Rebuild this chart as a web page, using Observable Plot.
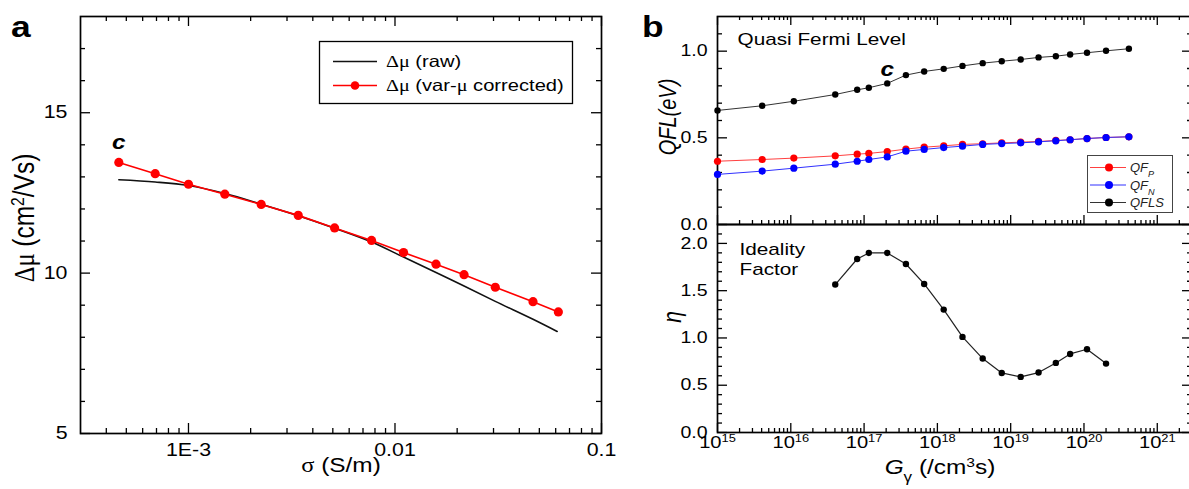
<!DOCTYPE html>
<html><head><meta charset="utf-8">
<script src="https://cdn.jsdelivr.net/npm/d3@7"></script>
<script src="https://cdn.jsdelivr.net/npm/@observablehq/plot@0.6"></script>
<style>
html,body{margin:0;padding:0;background:#fff;overflow:hidden;}
#root{position:relative;width:1189px;height:489px;overflow:hidden;}
#root svg{position:absolute;overflow:visible;}
</style></head><body><div id="root"></div>
<script>
// ---------------- Panel a data ----------------
const sigmaCorr = [4.6e-4, 6.9e-4, 1.0e-3, 1.5e-3, 2.25e-3, 3.4e-3, 5.1e-3, 7.7e-3, 0.0110, 0.0158, 0.0216, 0.0306, 0.0466, 0.0618];
const dmuCorr   = [13.45, 13.10, 12.77, 12.46, 12.14, 11.80, 11.41, 11.02, 10.64, 10.28, 9.95, 9.56, 9.11, 8.79];
const sigmaRaw  = [4.6e-4, 6.9e-4, 1.0e-3, 1.5e-3, 2.25e-3, 3.4e-3, 5.1e-3, 7.7e-3, 0.0110, 0.0158, 0.0216, 0.0306, 0.0466, 0.061];
const dmuRaw    = [12.91, 12.84, 12.73, 12.48, 12.15, 11.79, 11.40, 10.97, 10.50, 10.02, 9.60, 9.12, 8.56, 8.18];

// ---------------- Panel b data ----------------
const G    = [1.0e15, 4.07e15, 1.1e16, 4.04e16, 8.05e16, 1.16e17, 2.07e17, 3.72e17, 6.6e17, 1.22e18, 2.2e18, 4.15e18, 7.55e18, 1.37e19, 2.4e19, 4.13e19, 6.47e19, 1.1e20, 2.0e20, 4.1e20];
const qfp  = [0.365, 0.375, 0.383, 0.396, 0.406, 0.410, 0.421, 0.435, 0.446, 0.454, 0.462, 0.466, 0.471, 0.475, 0.479, 0.485, 0.489, 0.496, 0.502, 0.506];
const qfn  = [0.289, 0.308, 0.325, 0.348, 0.365, 0.375, 0.390, 0.423, 0.433, 0.444, 0.452, 0.462, 0.467, 0.471, 0.477, 0.483, 0.489, 0.496, 0.502, 0.506];
const qfls = [0.658, 0.685, 0.711, 0.750, 0.777, 0.789, 0.814, 0.862, 0.883, 0.898, 0.915, 0.931, 0.942, 0.952, 0.964, 0.971, 0.981, 0.991, 1.002, 1.014];
const Gideal   = [4.04e16, 8.05e16, 1.16e17, 2.07e17, 3.72e17, 6.6e17, 1.22e18, 2.2e18, 4.15e18, 7.55e18, 1.37e19, 2.4e19, 4.13e19, 6.47e19, 1.1e20, 2.0e20];
const ideality = [1.565, 1.835, 1.899, 1.899, 1.782, 1.571, 1.300, 1.011, 0.782, 0.630, 0.588, 0.634, 0.736, 0.831, 0.881, 0.729];

// ---------------- Tick values & labels ----------------
const aXMajor = [1e-3, 1e-2, 1e-1];
const aXLabels = ["1E-3", "0.01", "0.1"];
const aYMajor = [5, 10, 15];
const aYLabels = ["5", "10", "15"];
const aYMinor = [6, 7, 8, 9, 11, 12, 13, 14, 16, 17];
const bXMajor = [1e15, 1e16, 1e17, 1e18, 1e19, 1e20, 1e21];
const bXLabels = ["10^{15}", "10^{16}", "10^{17}", "10^{18}", "10^{19}", "10^{20}", "10^{21}"];
const bTopYMajor = [0, 0.5, 1.0];
const bTopYLabels = ["0.0", "0.5", "1.0"];
const bTopYMinor = [0.1, 0.2, 0.3, 0.4, 0.6, 0.7, 0.8, 0.9, 1.1];
const bBotYMajor = [0, 0.5, 1.0, 1.5, 2.0];
const bBotYLabels = ["0.0", "0.5", "1.0", "1.5", "2.0"];
const bBotYMinor = [0.1, 0.2, 0.3, 0.4, 0.6, 0.7, 0.8, 0.9, 1.1, 1.2, 1.3, 1.4, 1.6, 1.7, 1.8, 1.9, 2.1];

function logMinor(lo, hi) {
  const out = [];
  for (let e = Math.floor(Math.log10(lo)); e <= Math.ceil(Math.log10(hi)); e++)
    for (let m = 2; m <= 9; m++) { const v = m * Math.pow(10, e); if (v > lo * 1.0001 && v < hi * 0.9999) out.push(v); }
  return out;
}

const FONT = '"Liberation Sans", Arial, Helvetica, sans-serif';
const STRETCH = 1.22;
const root = document.getElementById("root");

function ticks(fw, fh, sides) {
  const st = {stroke: "#000", strokeWidth: 1.3};
  return sides.map(([axis, where, values, len]) => axis === "x"
    ? Plot.tickX(values, {x: d => d, ...st, ...(where === "bottom" ? {insetTop: fh - len} : {insetBottom: fh - len})})
    : Plot.tickY(values, {y: d => d, ...st, ...(where === "left" ? {insetRight: fw - len} : {insetLeft: fw - len})}));
}

// rotated axis title, drawn in its own element (glyphs widened along screen-x)
function vlabel(svg, x, y, text, size, italic) {
  d3.select(svg).append("text")
    .attr("class", "vlabel")
    .attr("transform", `translate(${x},${y}) rotate(-90) scale(1,${STRETCH})`)
    .attr("text-anchor", "middle").attr("dy", "0.35em")
    .attr("font-family", FONT).attr("font-size", size)
    .attr("font-style", italic ? "italic" : null)
    .text(text);
}

// ================= Panel a =================
const A = {w: 620, h: 489, ml: 80, mr: 19, mt: 16, mb: 56};
const aFW = A.w - A.ml - A.mr, aFH = A.h - A.mt - A.mb;
const aXDomain = [3e-4, 0.1];
const aXMinor = logMinor(aXDomain[0], aXDomain[1]);
const plotA = Plot.plot({
  width: A.w, height: A.h, marginLeft: A.ml, marginRight: A.mr, marginTop: A.mt, marginBottom: A.mb,
  x: {type: "log", domain: aXDomain, axis: null},
  y: {domain: [5, 18], axis: null},
  style: {background: "transparent", fontFamily: FONT, fontSize: "17px", color: "#000"},
  marks: [
    ...ticks(aFW, aFH, [
      ["x", "bottom", aXMajor, 10], ["x", "bottom", aXMinor, 5],
      ["x", "top", aXMajor, 10], ["x", "top", aXMinor, 5],
      ["y", "left", aYMajor, 10], ["y", "left", aYMinor, 5],
      ["y", "right", aYMajor, 10], ["y", "right", aYMinor, 5]
    ]),
    Plot.frame({stroke: "#000", strokeWidth: 1.7}),
    Plot.axisX(aXMajor, {anchor: "bottom", tickSize: 0, tickPadding: 10, tickFormat: d => aXLabels[aXMajor.indexOf(d)], fontSize: 17.5, label: null}),
    Plot.axisY(aYMajor, {anchor: "left", tickSize: 0, tickPadding: 13, tickFormat: d => aYLabels[aYMajor.indexOf(d)], fontSize: 17.5, label: null}),
    Plot.line(sigmaRaw.map((s, i) => [s, dmuRaw[i]]), {x: d => d[0], y: d => d[1], stroke: "#111", strokeWidth: 1.6, curve: "catmull-rom"}),
    Plot.line(sigmaCorr.map((s, i) => [s, dmuCorr[i]]), {x: d => d[0], y: d => d[1], stroke: "#ff0000", strokeWidth: 1.6}),
    Plot.dot(sigmaCorr.map((s, i) => [s, dmuCorr[i]]), {x: d => d[0], y: d => d[1], r: 4.6, fill: "#ff0000", stroke: "none"}),
    Plot.text(["c"], {x: () => sigmaCorr[0], y: () => 14.07, fontSize: 20, fontStyle: "italic", fontWeight: "bold"}),
    Plot.text(["!{σ} (S/m)"], {frameAnchor: "bottom", dy: 32, lineAnchor: "middle", fontSize: 20})
  ]
});
plotA.style.left = "0px"; plotA.style.top = "0px";
root.appendChild(plotA);
vlabel(plotA, 24, 218, "!{Δμ} (cm^{2}/Vs)", 24.5, false);
{
  const g = d3.select(plotA).append("g").attr("text-anchor", "start");
  g.append("text").attr("x", 11).attr("y", 37).attr("font-size", 29).attr("font-weight", "bold").attr("font-family", FONT).text("a");
  g.append("rect").attr("x", 319.5).attr("y", 41.5).attr("width", 253).attr("height", 62).attr("fill", "#fff").attr("stroke", "#000").attr("stroke-width", 1.3);
  g.append("line").attr("x1", 333).attr("x2", 377).attr("y1", 61.5).attr("y2", 61.5).attr("stroke", "#111").attr("stroke-width", 1.6);
  g.append("line").attr("x1", 333).attr("x2", 377).attr("y1", 85.5).attr("y2", 85.5).attr("stroke", "#ff0000").attr("stroke-width", 1.6);
  g.append("circle").attr("cx", 355).attr("cy", 85.5).attr("r", 4.3).attr("fill", "#ff0000");
  g.append("text").attr("x", 386).attr("y", 61.5).attr("dy", "0.36em").attr("font-size", 16.5).attr("font-family", FONT).text("!{Δμ} (raw)");
  g.append("text").attr("x", 386).attr("y", 85.5).attr("dy", "0.36em").attr("font-size", 16.5).attr("font-family", FONT).text("!{Δμ} (var-!{μ} corrected)");
}

// ================= Panel b =================
const bXDomain = [1e15, 2.84e21];
const bXMinor = logMinor(bXDomain[0], bXDomain[1]);
const BT = {w: 550, h: 225, ml: 77, mr: 0, mt: 16, mb: 1};
const btFW = BT.w - BT.ml - BT.mr, btFH = BT.h - BT.mt - BT.mb;
const idxB = d3.range(G.length);
const plotBT = Plot.plot({
  width: BT.w, height: BT.h, marginLeft: BT.ml, marginRight: BT.mr, marginTop: BT.mt, marginBottom: BT.mb,
  x: {type: "log", domain: bXDomain, axis: null},
  y: {domain: [0, 1.2], axis: null},
  style: {background: "transparent", fontFamily: FONT, fontSize: "16px", color: "#000"},
  marks: [
    ...ticks(btFW, btFH, [
      ["x", "bottom", bXMajor, 9], ["x", "bottom", bXMinor, 4],
      ["x", "top", bXMajor, 9], ["x", "top", bXMinor, 4],
      ["y", "left", bTopYMajor, 10], ["y", "left", bTopYMinor, 5],
      ["y", "right", bTopYMajor, 8], ["y", "right", bTopYMinor, 3]
    ]),
    Plot.frame({stroke: "#000", strokeWidth: 1.7}),
    Plot.axisY(bTopYMajor, {anchor: "left", tickSize: 0, tickPadding: 10, tickFormat: d => bTopYLabels[bTopYMajor.indexOf(d)], fontSize: 16, label: null}),
    Plot.line(idxB, {x: i => G[i], y: i => qfp[i], stroke: "#ff4040", strokeWidth: 1}),
    Plot.dot(idxB, {x: i => G[i], y: i => qfp[i], r: 3.6, fill: "#ff0000", stroke: "none"}),
    Plot.line(idxB, {x: i => G[i], y: i => qfn[i], stroke: "#3030ff", strokeWidth: 1}),
    Plot.dot(idxB, {x: i => G[i], y: i => qfn[i], r: 3.6, fill: "#0000ff", stroke: "none"}),
    Plot.line(idxB, {x: i => G[i], y: i => qfls[i], stroke: "#333", strokeWidth: 1}),
    Plot.dot(idxB, {x: i => G[i], y: i => qfls[i], r: 3.2, fill: "#000", stroke: "none"}),
    Plot.text(["c"], {x: () => G[6], y: () => 0.893, fontSize: 20, fontStyle: "italic", fontWeight: "bold"}),
    Plot.text(["Quasi Fermi Level"], {frameAnchor: "top-left", dx: 20, dy: 16, lineAnchor: "top", textAnchor: "start", fontSize: 17})
  ]
});
plotBT.style.left = "640px"; plotBT.style.top = "0px";
root.appendChild(plotBT);
vlabel(plotBT, 27, 117, "QFL(eV)", 20, true);
{
  const g = d3.select(plotBT).append("g").attr("text-anchor", "start");
  g.append("text").attr("x", 2).attr("y", 37).attr("font-size", 29).attr("font-weight", "bold").attr("font-family", FONT).text("b");
  const lx = 447.5, ly = 155.5;
  g.append("rect").attr("x", lx).attr("y", ly).attr("width", 85).attr("height", 57).attr("fill", "#fff").attr("stroke", "#444").attr("stroke-width", 1);
  const rows = [["#ff4040", "#ff0000", "~{QF}_{~{P}}"], ["#3030ff", "#0000ff", "~{QF}_{~{N}}"], ["#333", "#000", "~{QFLS}"]];
  rows.forEach(([lc, fc, t], k) => {
    const y = 167.5 + k * 17.5;
    g.append("line").attr("x1", 450).attr("x2", 486).attr("y1", y).attr("y2", y).attr("stroke", lc).attr("stroke-width", 1);
    g.append("circle").attr("cx", 469).attr("cy", y).attr("r", 4).attr("fill", fc);
    g.append("text").attr("class", "nostretch").attr("x", 490).attr("y", y).attr("dy", "0.36em").attr("font-size", 13).attr("font-family", FONT).attr("fill", "#222").text(t);
  });
}

const BB = {w: 550, h: 266, ml: 77, mr: 0, mt: 1, mb: 57};
const bbFW = BB.w - BB.ml - BB.mr, bbFH = BB.h - BB.mt - BB.mb;
const idxI = d3.range(Gideal.length);
const plotBB = Plot.plot({
  width: BB.w, height: BB.h, marginLeft: BB.ml, marginRight: BB.mr, marginTop: BB.mt, marginBottom: BB.mb,
  x: {type: "log", domain: bXDomain, axis: null},
  y: {domain: [0, 2.2], axis: null},
  style: {background: "transparent", fontFamily: FONT, fontSize: "16px", color: "#000"},
  marks: [
    ...ticks(bbFW, bbFH, [
      ["x", "bottom", bXMajor, 9], ["x", "bottom", bXMinor, 4],
      ["y", "left", bBotYMajor, 10], ["y", "left", bBotYMinor, 5],
      ["y", "right", bBotYMajor, 8], ["y", "right", bBotYMinor, 3]
    ]),
    Plot.frame({stroke: "#000", strokeWidth: 1.7}),
    Plot.axisX(bXMajor, {anchor: "bottom", tickSize: 0, tickPadding: 4, tickFormat: d => bXLabels[bXMajor.indexOf(d)], fontSize: 16.5, label: null}),
    Plot.axisY(bBotYMajor, {anchor: "left", tickSize: 0, tickPadding: 10, tickFormat: d => bBotYLabels[bBotYMajor.indexOf(d)], fontSize: 16, label: null}),
    Plot.line(idxI, {x: i => Gideal[i], y: i => ideality[i], stroke: "#222", strokeWidth: 1.2}),
    Plot.dot(idxI, {x: i => Gideal[i], y: i => ideality[i], r: 3.2, fill: "#000", stroke: "none"}),
    Plot.text(["Ideality"], {frameAnchor: "top-left", dx: 22, dy: 18, lineAnchor: "top", textAnchor: "start", fontSize: 17}),
    Plot.text(["Factor"], {frameAnchor: "top-left", dx: 22, dy: 38, lineAnchor: "top", textAnchor: "start", fontSize: 17}),
    Plot.text(["~{G}_{γ} (/cm^{3}s)"], {frameAnchor: "bottom", dx: -14, dy: 35, lineAnchor: "middle", fontSize: 20})
  ]
});
plotBB.style.left = "640px"; plotBB.style.top = "223px";
root.appendChild(plotBB);
vlabel(plotBB, 32, 94, "η", 21, true);

// ---------- rich text: ^{sup} _{sub} ~{italic} !{serif} ----------
function richify(scope) {
  scope.querySelectorAll("text").forEach(t => {
    if (t.querySelector("tspan")) return;
    const s = t.textContent;
    if (!/[\^_~!]\{/.test(s)) return;
    t.textContent = "";
    const add = (txt, kind, parent) => {
      const ts = document.createElementNS("http://www.w3.org/2000/svg", "tspan");
      if (kind === "^") { ts.setAttribute("baseline-shift", "super"); ts.style.fontSize = "0.64em"; }
      if (kind === "_") { ts.setAttribute("baseline-shift", "sub"); ts.style.fontSize = "0.7em"; }
      if (kind === "~") ts.setAttribute("font-style", "italic");
      if (kind === "!") ts.setAttribute("font-family", '"Liberation Serif", "Times New Roman", serif');
      if (kind && /([\^_~!])\{([^{}]*)\}/.test(txt)) parse(txt, ts);
      else ts.textContent = txt;
      parent.appendChild(ts);
    };
    function parse(str, parent) {
      const re = /([\^_~!])\{((?:[^{}]|\{[^{}]*\})*)\}/g;
      let last = 0, m;
      while ((m = re.exec(str))) {
        if (m.index > last) add(str.slice(last, m.index), null, parent);
        add(m[2], m[1], parent);
        last = re.lastIndex;
      }
      if (last < str.length) add(str.slice(last), null, parent);
    }
    parse(s, t);
  });
}
richify(root);

// The reference figure is horizontally stretched: widen horizontal glyphs to match
function stretch(scope, k) {
  scope.querySelectorAll("text").forEach(t => {
    if (t.classList.contains("nostretch") || t.classList.contains("vlabel")) return;
    const L = t.getComputedTextLength();
    if (L > 0) { t.setAttribute("textLength", (L * k).toFixed(2)); t.setAttribute("lengthAdjust", "spacingAndGlyphs"); }
  });
}
stretch(root, STRETCH);
</script>
</body></html>
